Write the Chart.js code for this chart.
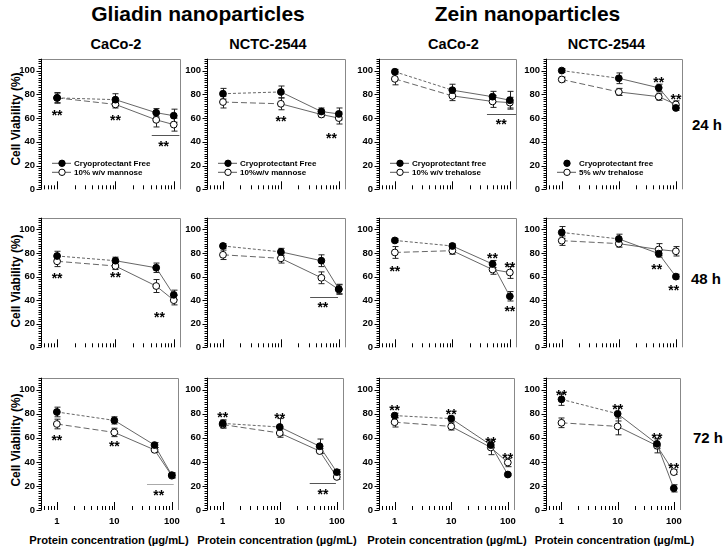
<!DOCTYPE html>
<html><head><meta charset="utf-8">
<script src="https://cdn.jsdelivr.net/npm/chart.js@4.4.0/dist/chart.umd.min.js"></script>
<style>
body{margin:0;background:#fff;width:727px;height:555px;overflow:hidden;position:relative;font-family:'Liberation Sans',Arial,sans-serif;}
canvas{position:absolute;}
.t{position:absolute;font-weight:bold;color:#000;white-space:nowrap;line-height:1;}
</style></head><body>
<script>
// ---------- DATA ----------
const concentrations = [1, 10, 50, 100];
const xTickValues = [1, 10, 100];
const yTickValues = [0, 20, 40, 60, 80, 100];
const groupTitles = ['Gliadin nanoparticles', 'Zein nanoparticles'];
const cellLines = ['CaCo-2', 'NCTC-2544', 'CaCo-2', 'NCTC-2544'];
const timeLabels = ['24 h', '48 h', '72 h'];
const legendFree = ['Cryoprotectant Free', 'Cryoprotectant Free', 'Cryoprotectant free', 'Cryoprotectant free'];
const legendCryo = ['10% w/v mannose', '10%w/v mannose', '10% w/v trehalose', '5% w/v trehalose'];
const yTitle = 'Cell Viability (%)';
const xTitle = 'Protein concentration (\u00b5g/mL)';

// 24 h  (panels: Gliadin CaCo-2, Gliadin NCTC-2544, Zein CaCo-2, Zein NCTC-2544)
const free24    = [[77, 75.5, 64.5, 62], [80.5, 82, 65.5, 63.5], [99, 83.5, 78, 75], [100, 93.5, 85.5, 68.5]];
const freeErr24 = [[4, 5, 3.5, 5.5], [4.5, 5, 3, 5], [2, 5, 4.5, 7.5], [1.5, 4.5, 3, 2]];
const cryo24    = [[77, 71.5, 58.5, 54.5], [73.5, 72, 63, 60], [93, 78.7, 74, 73], [92.5, 82, 78, 71.5]];
const cryoErr24 = [[4.5, 3, 6, 5.5], [5, 5, 2, 5], [5, 4, 5, 4.5], [2, 3, 3, 3]];
const stars24   = [[[1, 65.5], [10, 60.5], [67, 39]], [[10, 60], [75, 46]], [[71, 57.5]], [[50, 92.5], [100, 79]]];
const sig24     = [[[42, 125, 45.5]], [], [[40, 128, 63.3]], []];

// 48 h
const free48    = [[77.5, 73.5, 67.5, 44.5], [86, 81, 73.5, 49.5], [90.7, 86, 70.7, 43.3], [97.5, 92, 79.5, 60]];
const freeErr48 = [[4, 3, 4, 4], [2, 3, 5, 4], [1.5, 2, 3, 4], [5, 4, 3, 2]];
const cryo48    = [[73, 69, 52, 40], [78.5, 75.5, 59, 49], [80.5, 82, 66, 63.5], [90.5, 88, 83, 81.5]];
const cryoErr48 = [[4.5, 3, 5.5, 4], [4, 4, 5, 4], [5, 3, 4, 5], [4, 3, 5, 4]];
const stars48   = [[[1, 61.5], [10, 62], [57, 28.5]], [[53, 37]], [[1, 67.5], [50, 78.5], [100, 71], [100, 33]], [[46, 69], [92, 51]]];
const sig48     = [[], [[32, 97, 43]], [], []];

// 72 h
const free72    = [[81.5, 74.5, 54, 29], [72, 69, 53, 31.5], [78.5, 76, 54, 29.5], [92, 80, 55, 18]];
const freeErr72 = [[4, 3, 2, 2], [3, 7, 6, 2], [2, 2, 2, 1], [5, 6, 4, 3]];
const cryo72    = [[71.5, 64.5, 50, 28.5], [71, 64, 49, 27.5], [73, 69.5, 52, 39.5], [72.5, 69.5, 53.5, 31.5]];
const cryoErr72 = [[4, 3.5, 2, 2], [3, 3.5, 2, 2], [4, 3, 6, 3.5], [4, 7, 6, 2]];
const stars72   = [[[1, 61], [10, 55.5], [59, 15]], [[1, 80], [10, 79], [57, 16]], [[1, 85.5], [10, 82.5], [50, 59], [100, 45.5]], [[1, 98], [10, 86.5], [50, 62], [100, 37]]];
const sig72     = [[[37, 108, 21.3]], [[33.5, 96.5, 22.6]], [], []];

// ---------- LAYOUT ----------
const FONT = "'Liberation Sans', Arial, sans-serif";
Chart.defaults.font.family = FONT;
const colLeft = [41, 207, 379, 546];
const colW = [139, 138, 137, 136];
const rowTop = [53, 212, 372];
const rowH = [140, 139, 138];
const PADL = 40, PADT = 6, PADR = 6;

const rows = [
  {free: free24, fe: freeErr24, cryo: cryo24, ce: cryoErr24, stars: stars24, sig: sig24},
  {free: free48, fe: freeErr48, cryo: cryo48, ce: cryoErr48, stars: stars48, sig: sig48},
  {free: free72, fe: freeErr72, cryo: cryo72, ce: cryoErr72, stars: stars72, sig: sig72}
];

function txt(s, cx, base, size) {
  const d = document.createElement('div');
  d.className = 't';
  d.textContent = s;
  d.style.fontSize = size + 'px';
  d.style.left = cx + 'px';
  d.style.top = (base - 0.8465 * size) + 'px';
  d.style.transform = 'translateX(-50%)';
  document.body.appendChild(d);
}
function vtxt(s, cx, cy, size) {
  const d = document.createElement('div');
  d.className = 't';
  d.textContent = s;
  d.style.fontSize = size + 'px';
  d.style.left = cx + 'px';
  d.style.top = cy + 'px';
  d.style.transform = 'translate(-50%,-50%) rotate(-90deg)';
  document.body.appendChild(d);
}

txt(groupTitles[0], 198, 21, 21);
txt(groupTitles[1], 527.5, 21, 21);
[116, 268, 453.5, 606.5].forEach((cx, i) => txt(cellLines[i], cx, 49, 14.5));
[[707, 130], [706, 284], [708, 443]].forEach((p, i) => txt(timeLabels[i], p[0], p[1], 15));
[118.5, 281, 440].forEach(cy => vtxt(yTitle, 16, cy, 12));
[109, 277, 447, 614.5].forEach(cx => txt(xTitle, cx, 544, 11.2));

const xMinor = [0.6, 0.7, 0.8, 0.9, 1, 2, 3, 4, 5, 6, 7, 8, 9, 10, 20, 30, 40, 50, 60, 70, 80, 90, 100];

function makePanel(r, c) {
  const R = rows[r];
  const bottomH = r === 2 ? 20 : 8;
  const cv = document.createElement('canvas');
  const w = PADL + colW[c] + PADR, h = PADT + rowH[r] + bottomH;
  cv.width = w; cv.height = h;
  cv.style.left = (colLeft[c] - PADL) + 'px';
  cv.style.top = (rowTop[r] - PADT) + 'px';
  cv.style.width = w + 'px'; cv.style.height = h + 'px';
  document.body.appendChild(cv);

  const free = R.free[c], fe = R.fe[c], cryo = R.cryo[c], ce = R.ce[c];
  const deco = {
    id: 'deco' + r + c,
    beforeDatasetsDraw(chart) {
      const ctx = chart.ctx, xs = chart.scales.x, ys = chart.scales.y;
      ctx.save();
      ctx.strokeStyle = '#222'; ctx.lineWidth = 1;
      [[cryo, ce], [free, fe]].forEach(([vals, errs]) => {
        vals.forEach((v, i) => {
          const px = Math.round(xs.getPixelForValue(concentrations[i])) + 0.5;
          const y1 = ys.getPixelForValue(v + errs[i]);
          const y2 = ys.getPixelForValue(v - errs[i]);
          ctx.beginPath();
          ctx.moveTo(px, y1); ctx.lineTo(px, y2);
          ctx.moveTo(px - 3, y1); ctx.lineTo(px + 3, y1);
          ctx.moveTo(px - 3, y2); ctx.lineTo(px + 3, y2);
          ctx.stroke();
        });
      });
      ctx.strokeStyle = r === 2 && c === 0 ? '#aaa' : '#555';
      R.sig[c].forEach(([x1, x2, y]) => {
        const py = Math.round(ys.getPixelForValue(y)) + 0.5;
        const a = xs.getPixelForValue(x1);
        const b = Math.min(xs.getPixelForValue(x2), chart.chartArea.right);
        ctx.beginPath(); ctx.moveTo(a, py); ctx.lineTo(b, py); ctx.stroke();
      });
      ctx.restore();
    },
    afterDraw(chart) {
      const ctx = chart.ctx, xs = chart.scales.x, ys = chart.scales.y, A = chart.chartArea;
      ctx.save();
      // border top/right
      ctx.strokeStyle = '#888'; ctx.lineWidth = 1;
      ctx.beginPath();
      ctx.moveTo(A.left, Math.round(A.top) + 0.5); ctx.lineTo(Math.round(A.right) + 0.5, Math.round(A.top) + 0.5);
      ctx.lineTo(Math.round(A.right) + 0.5, A.bottom);
      ctx.stroke();
      // y axis
      ctx.strokeStyle = '#000';
      const ax = Math.round(A.left) + 0.5;
      ctx.beginPath(); ctx.moveTo(ax, A.top); ctx.lineTo(ax, A.bottom); ctx.stroke();
      ctx.beginPath();
      for (let v = 0; v <= 110; v += 2) {
        const py = Math.round(ys.getPixelForValue(v)) + 0.5;
        const len = v % 20 === 0 ? 5 : 3;
        ctx.moveTo(ax - len, py); ctx.lineTo(ax, py);
      }
      ctx.stroke();
      // x ticks (inward, from bottom)
      ctx.beginPath();
      xMinor.forEach(v => {
        const px = Math.round(xs.getPixelForValue(v)) + 0.5;
        const len = (v === 1 || v === 10 || v === 100) ? 8 : 4;
        ctx.moveTo(px, A.bottom); ctx.lineTo(px, A.bottom - len);
      });
      ctx.stroke();
      // stars
      ctx.fillStyle = '#000';
      ctx.font = 'bold 14px ' + FONT;
      ctx.textAlign = 'center'; ctx.textBaseline = 'alphabetic';
      R.stars[c].forEach(([x, y]) => {
        ctx.fillText('**', xs.getPixelForValue(x), ys.getPixelForValue(y) + 8);
      });
      // legend (24 h row)
      if (r === 0) {
        const items = [[legendFree[c], true], [legendCryo[c], false]];
        items.forEach(([label, filled], k) => {
          const yy = A.bottom - 26 + k * 9;
          ctx.strokeStyle = '#444'; ctx.lineWidth = 0.9;
          if (!(c === 3 && filled)) {
            ctx.beginPath(); ctx.moveTo(A.left + 11, yy); ctx.lineTo(A.left + 30, yy); ctx.stroke();
          }
          ctx.beginPath(); ctx.arc(A.left + 21, yy, 3.2, 0, Math.PI * 2);
          ctx.fillStyle = filled ? '#000' : '#fff'; ctx.fill();
          ctx.strokeStyle = '#000'; ctx.lineWidth = 1; ctx.stroke();
          ctx.fillStyle = '#000';
          ctx.font = 'bold 8px ' + FONT;
          ctx.textAlign = 'left'; ctx.textBaseline = 'middle';
          ctx.fillText(label, A.left + 33, yy + 0.5);
        });
      }
      ctx.restore();
    }
  };

  new Chart(cv, {
    type: 'line',
    data: {
      datasets: [
        {
          data: concentrations.map((x, i) => ({x, y: free[i]})),
          borderColor: '#555', borderWidth: 0.9,
          pointRadius: 3.4, pointBackgroundColor: '#000', pointBorderColor: '#000', pointBorderWidth: 1,
          segment: {borderDash: ctx => ctx.p0DataIndex === 0 ? [3, 2] : []}
        },
        {
          data: concentrations.map((x, i) => ({x, y: cryo[i]})),
          borderColor: '#555', borderWidth: 0.9,
          pointRadius: 3.4, pointBackgroundColor: '#fff', pointBorderColor: '#000', pointBorderWidth: 1,
          segment: {borderDash: ctx => ctx.p0DataIndex === 0 ? [6, 3] : []}
        }
      ]
    },
    options: {
      responsive: false, animation: false,
      layout: {padding: {top: PADT, right: PADR, left: 0, bottom: 0}},
      plugins: {legend: {display: false}, tooltip: {enabled: false}},
      scales: {
        x: {
          type: 'logarithmic', min: 0.53, max: 128,
          grid: {display: false, drawTicks: false}, border: {display: false},
          ticks: {display: r === 2, padding: 6, color: '#000', font: {size: 9.5, weight: 'bold'},
                  autoSkip: false, maxRotation: 0, callback: v => String(v)},
          afterBuildTicks: s => { s.ticks = xTickValues.map(v => ({value: v})); },
          afterFit: s => { s.height = bottomH; }
        },
        y: {
          min: 0, max: 110,
          grid: {display: false, drawTicks: false}, border: {display: false},
          ticks: {padding: 6, color: '#000', font: {size: 9.5, weight: 'bold'}},
          afterBuildTicks: s => { s.ticks = yTickValues.map(v => ({value: v})); },
          afterFit: s => { s.width = PADL; }
        }
      }
    },
    plugins: [deco]
  });
}

for (let r = 0; r < 3; r++) for (let c = 0; c < 4; c++) makePanel(r, c);
</script>
</body></html>
